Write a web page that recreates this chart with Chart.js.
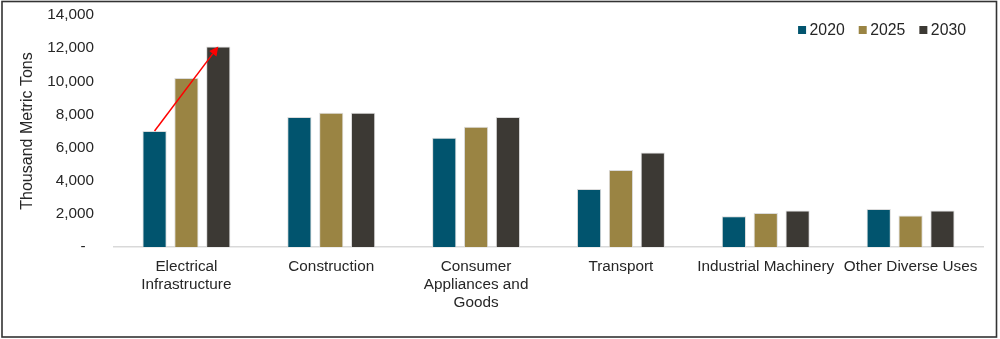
<!DOCTYPE html>
<html>
<head>
<meta charset="utf-8">
<script src="https://cdn.jsdelivr.net/npm/chart.js@4"></script>
<style>
  html, body { margin: 0; padding: 0; background: #fff; }
  #wrap { position: relative; width: 1000px; height: 339px; }
</style>
</head>
<body>
<div id="wrap"><canvas id="c" width="1000" height="339"></canvas></div>
<script>
// End-use categories (multi-line labels as they wrap under the axis)
const categories = [
  ['Electrical', 'Infrastructure'],
  'Construction',
  ['Consumer', 'Appliances and', 'Goods'],
  'Transport',
  'Industrial Machinery',
  'Other Diverse Uses'
];

// Demand in thousand metric tons
const values2020 = [7000, 7850, 6600, 3500, 1850, 2300];
const values2025 = [10200, 8100, 7250, 4650, 2050, 1900];
const values2030 = [12100, 8100, 7850, 5700, 2200, 2200];

const seriesNames = ['2020', '2025', '2030'];
const yTicks = [0, 2000, 4000, 6000, 8000, 10000, 12000, 14000];

const FONT = "'Liberation Sans', Arial, sans-serif";
const TEXT = '#262626';

// Red growth arrow from the first 2020 bar to the first 2030 bar
const growthArrow = {
  id: 'growthArrow',
  afterDatasetsDraw(chart) {
    const a = chart.getDatasetMeta(0).data[0];
    const b = chart.getDatasetMeta(2).data[0];
    if (!a || !b) return;
    const ctx = chart.ctx;
    const x1 = a.x, y1 = a.y, x2 = b.x, y2 = b.y;
    const ang = Math.atan2(y2 - y1, x2 - x1);
    const head = 9, half = 4.5;
    ctx.save();
    ctx.strokeStyle = '#ff0000';
    ctx.fillStyle = '#ff0000';
    ctx.lineWidth = 1.5;
    ctx.beginPath();
    ctx.moveTo(x1, y1);
    ctx.lineTo(x2 - Math.cos(ang) * head, y2 - Math.sin(ang) * head);
    ctx.stroke();
    ctx.beginPath();
    ctx.moveTo(x2, y2);
    ctx.lineTo(x2 - Math.cos(ang) * head - Math.sin(ang) * half,
               y2 - Math.sin(ang) * head + Math.cos(ang) * half);
    ctx.lineTo(x2 - Math.cos(ang) * head + Math.sin(ang) * half,
               y2 - Math.sin(ang) * head - Math.cos(ang) * half);
    ctx.closePath();
    ctx.fill();
    ctx.restore();
  }
};

// Horizontal legend tucked into the top-right corner of the plot
const cornerLegend = {
  id: 'cornerLegend',
  afterDraw(chart) {
    const ctx = chart.ctx;
    const box = 8, gap = 3.5, spacing = 14;
    const yMid = 30;
    ctx.save();
    ctx.font = '15.8px ' + FONT;
    ctx.textBaseline = 'middle';
    ctx.textAlign = 'left';
    const items = chart.data.datasets.map(ds => ({
      text: ds.label, color: ds.backgroundColor, w: ctx.measureText(ds.label).width
    }));
    let total = 0;
    items.forEach((it, i) => { total += box + gap + it.w + (i ? spacing : 0); });
    let x = 966 - total;
    items.forEach(it => {
      ctx.fillStyle = it.color;
      ctx.fillRect(x, yMid - box / 2, box, box);
      ctx.fillStyle = TEXT;
      ctx.fillText(it.text, x + box + gap, yMid + 1);
      x += box + gap + it.w + spacing;
    });
    ctx.restore();
  }
};

// Dark frame around the whole figure
const frame = {
  id: 'frame',
  afterDraw(chart) {
    const ctx = chart.ctx;
    ctx.save();
    ctx.strokeStyle = '#333333';
    ctx.lineWidth = 1.6;
    ctx.strokeRect(2, 1.5, 994.5, 335.5);
    ctx.restore();
  }
};

function barSet(label, data, fill) {
  return {
    label: label,
    data: data,
    backgroundColor: fill,
    borderColor: 'rgba(215,215,215,0.9)',
    borderWidth: 1,
    barPercentage: 0.76,
    categoryPercentage: 0.66
  };
}

new Chart(document.getElementById('c'), {
  type: 'bar',
  data: {
    labels: categories,
    datasets: [
      barSet(seriesNames[0], values2020, '#01546e'),
      barSet(seriesNames[1], values2025, '#9a8443'),
      barSet(seriesNames[2], values2030, '#3c3934')
    ]
  },
  options: {
    responsive: false,
    animation: false,
    devicePixelRatio: 1,
    layout: { padding: { left: 0, right: 17, top: 15, bottom: 0 } },
    plugins: {
      tooltip: { enabled: false },
      legend: { display: false }
    },
    scales: {
      x: {
        grid: { display: false },
        border: { display: true, color: '#d9d9d9', width: 1.5 },
        ticks: {
          color: TEXT,
          font: { family: FONT, size: 15.3, lineHeight: 1.18 },
          padding: 3,
          maxRotation: 0,
          autoSkip: false
        },
        afterFit(scale) { scale.height = 92; }
      },
      y: {
        min: 0,
        max: 14000,
        grid: { display: false, drawTicks: false },
        border: { display: false },
        afterBuildTicks(scale) {
          scale.ticks = yTicks.map(v => ({ value: v }));
        },
        ticks: {
          color: TEXT,
          font: { family: FONT, size: 15.3 },
          padding: 20,
          callback(v) { return v === 0 ? '-  ' : v.toLocaleString('en-US'); }
        },
        title: {
          display: true,
          text: 'Thousand Metric Tons',
          color: TEXT,
          font: { family: FONT, size: 16 },
          padding: { top: 18, bottom: 0 }
        },
        afterFit(scale) {
          scale.width = 114;
          // keep the horizontal label gap from inflating the vertical margins
          scale.paddingTop = 9;
          scale.paddingBottom = 9;
        }
      }
    }
  },
  plugins: [growthArrow, cornerLegend, frame]
});
</script>
</body>
</html>
